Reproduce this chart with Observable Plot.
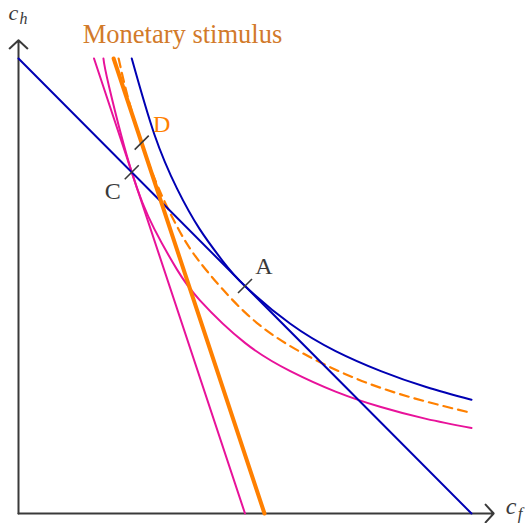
<!DOCTYPE html>
<html>
<head>
<meta charset="utf-8">
<script src="https://cdn.jsdelivr.net/npm/d3@7"></script>
<script src="https://cdn.jsdelivr.net/npm/@observablehq/plot@0.6"></script>
<style>
  html, body { margin: 0; padding: 0; background: #fff; }
  svg { display: block; overflow: visible; }
</style>
</head>
<body>
<div id="chart"></div>
<script>
// ---- data (in arbitrary consumption units, 0..10) ----
// Budget line through A (blue)
const blueLineX = [0, 10];
const blueLineY = [10, 0];
// Indifference curve through A (blue)
const blueCurveX = [2.5, 3, 3.5, 4, 4.5, 5, 6, 7, 8, 9, 10];
const blueCurveY = [10, 8.33, 7.14, 6.25, 5.56, 5, 4.17, 3.57, 3.13, 2.78, 2.5];
// Steep budget line through C (magenta)
const magLineX = [1.667, 5];
const magLineY = [10, 0];
// Indifference curve through C (magenta)
const magCurveX = [1.875, 2, 2.5, 3, 3.5, 4, 5, 6, 7, 8, 9, 10];
const magCurveY = [10, 9.38, 7.5, 6.25, 5.36, 4.69, 3.75, 3.13, 2.68, 2.34, 2.08, 1.88];
// Budget line after monetary stimulus (orange)
const orLineX = [2.1, 5.43];
const orLineY = [10, 0];
// Indifference curve through D (orange, dashed)
const orCurveX = [2.21, 2.5, 3, 3.5, 4, 5, 6, 7, 8, 9, 10];
const orCurveY = [10, 8.84, 7.37, 6.31, 5.53, 4.42, 3.68, 3.16, 2.76, 2.46, 2.21];
// Marked points
const pointNames = ["C", "D", "A"];
const pointX = [2.5, 2.72, 5];
const pointY = [7.5, 8.15, 5];
// Axis extents (beyond the plotting domain, for the arrows)
const axisMaxX = 10.49;
const axisMaxY = 10.4;

const toXY = (xs, ys) => xs.map((x, i) => ({x, y: ys[i]}));
const points = pointNames.map((n, i) => ({name: n, x: pointX[i], y: pointY[i]}));

const BLUE = "#0000b3";
const MAG = "#e8129a";
const ORANGE = "#ff8000";
const AX = "#3a3a3a";
const SERIF = "Liberation Serif, DejaVu Serif, serif";

const hx = 0.155, hy = 0.154; // tick half-extent

const chart = Plot.plot({
  width: 528,
  height: 523,
  marginLeft: 18,
  marginRight: 57,
  marginTop: 58,
  marginBottom: 10,
  x: {domain: [0, 10], axis: null},
  y: {domain: [0, 10], axis: null},
  style: {background: "#fff", overflow: "visible"},
  marks: [
    // axes
    Plot.arrow([{x1: 0, y1: 0, x2: axisMaxX, y2: 0}], {x1: "x1", y1: "y1", x2: "x2", y2: "y2", stroke: AX, strokeWidth: 2, headLength: 9, headAngle: 95}),
    Plot.arrow([{x1: 0, y1: 0, x2: 0, y2: axisMaxY}], {x1: "x1", y1: "y1", x2: "x2", y2: "y2", stroke: AX, strokeWidth: 2, headLength: 9, headAngle: 95}),
    // curves
    Plot.line(toXY(magCurveX, magCurveY), {x: "x", y: "y", stroke: MAG, strokeWidth: 2, curve: "natural"}),
    Plot.line(toXY(orCurveX, orCurveY), {x: "x", y: "y", stroke: ORANGE, strokeWidth: 2.2, strokeDasharray: "9,6", curve: "natural"}),
    Plot.line(toXY(blueCurveX, blueCurveY), {x: "x", y: "y", stroke: BLUE, strokeWidth: 2, curve: "natural"}),
    // budget lines
    Plot.line(toXY(magLineX, magLineY), {x: "x", y: "y", stroke: MAG, strokeWidth: 2}),
    Plot.line(toXY(blueLineX, blueLineY), {x: "x", y: "y", stroke: BLUE, strokeWidth: 2}),
    Plot.line(toXY(orLineX, orLineY), {x: "x", y: "y", stroke: ORANGE, strokeWidth: 4}),
    // tick marks at points
    Plot.link(points, {x1: d => d.x - hx, y1: d => d.y - hy, x2: d => d.x + hx, y2: d => d.y + hy, stroke: AX, strokeWidth: 1.6}),
    // point labels
    Plot.text(points.filter(d => d.name === "A"), {x: "x", y: "y", text: "name", dx: 19, dy: -20, fontSize: 24, fontFamily: SERIF, fill: AX}),
    Plot.text(points.filter(d => d.name === "C"), {x: "x", y: "y", text: "name", dx: -19, dy: 19, fontSize: 24, fontFamily: SERIF, fill: AX}),
    Plot.text(points.filter(d => d.name === "D"), {x: "x", y: "y", text: "name", dx: 20, dy: -18, fontSize: 24, fontFamily: SERIF, fill: ORANGE}),
    // title annotation
    Plot.text(["Monetary stimulus"], {x: () => 3.62, y: () => 10.53, text: d => d, fontSize: 26.5, fontFamily: SERIF, fill: "#d27a2a"}),
    // axis labels
    Plot.text(["c"], {x: () => 0, y: () => axisMaxY, text: d => d, dx: -10, dy: -20, textAnchor: "start", lineAnchor: "bottom", fontSize: 22, fontStyle: "italic", fontFamily: SERIF, fill: AX}),
    Plot.text(["h"], {x: () => 0, y: () => axisMaxY, text: d => d, dx: 1, dy: -16, textAnchor: "start", lineAnchor: "bottom", fontSize: 16, fontStyle: "italic", fontFamily: SERIF, fill: AX}),
    Plot.text(["c"], {x: () => axisMaxX, y: () => 0, text: d => d, dx: 12, dy: 0, textAnchor: "start", lineAnchor: "bottom", fontSize: 24, fontStyle: "italic", fontFamily: SERIF, fill: AX}),
    Plot.text(["f"], {x: () => axisMaxX, y: () => 0, text: d => d, dx: 24, dy: 5, textAnchor: "start", lineAnchor: "bottom", fontSize: 17, fontStyle: "italic", fontFamily: SERIF, fill: AX})
  ]
});
document.getElementById("chart").appendChild(chart);
</script>
</body>
</html>
